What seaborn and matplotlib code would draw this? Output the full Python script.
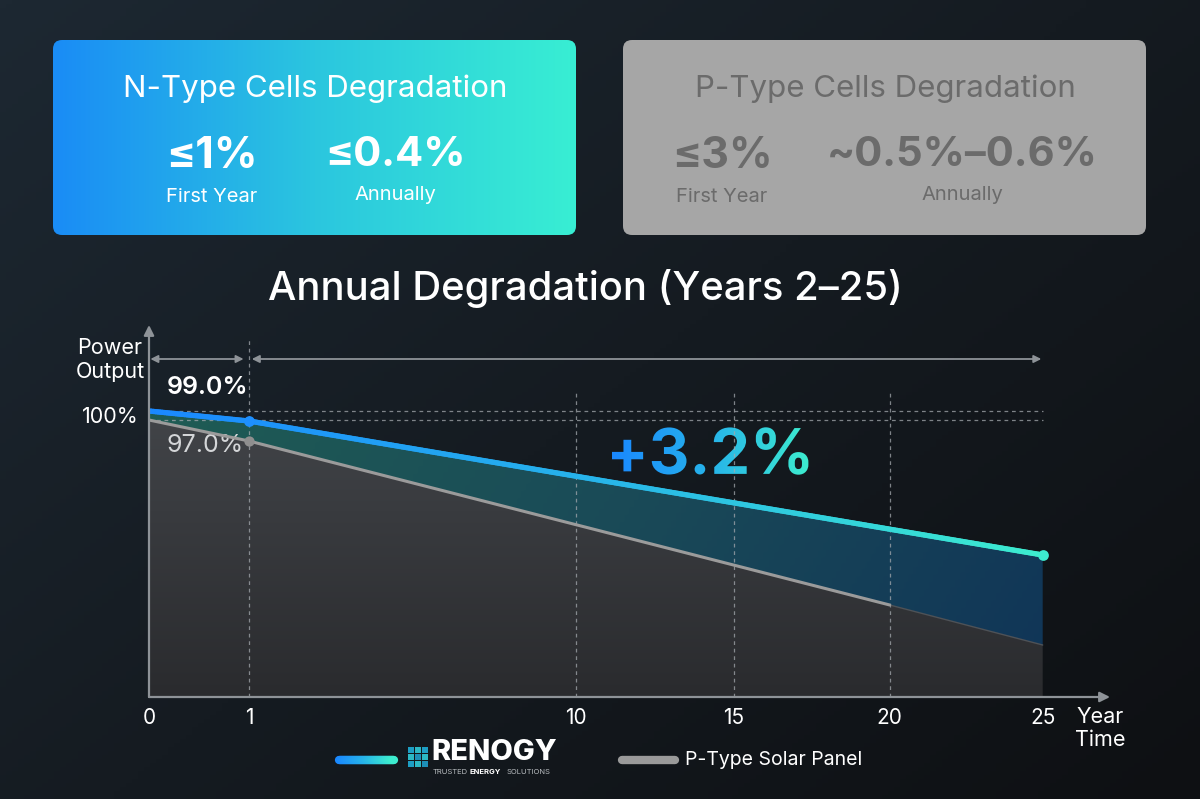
import numpy as np
import seaborn as sns
import matplotlib.pyplot as plt
from matplotlib.colors import LinearSegmentedColormap
from matplotlib.collections import LineCollection
from matplotlib.patches import FancyBboxPatch, PathPatch, Rectangle
from matplotlib.textpath import TextPath
from matplotlib.font_manager import FontProperties
from matplotlib.transforms import Affine2D, blended_transform_factory

# ---- data ----
n_years = [0, 1, 25]
n_output = [100.0, 99.0, 85.6]          # N-type (Renogy) power output, %
p_years = [0, 1, 20, 25]
p_output = [99.1, 97.0, 80.6, 76.6]     # P-type power output, %
tick_years = [0, 1, 10, 15, 20, 25]
grid_years = [10, 15, 20]
gain_label = "+3.2%"

n_box = {"title": "N-Type Cells Degradation", "first": "≤1%", "annual": "≤0.4%"}
p_box = {"title": "P-Type Cells Degradation", "first": "≤3%", "annual": "~0.5%–0.6%"}

# schematic (uneven) year axis used in the original
year_knots = [0, 1, 10, 15, 20, 25, 30]
pos_knots = [0, 1, 4.27, 5.85, 7.41, 8.94, 10.47]


def fwd(x):
    return np.interp(x, year_knots, pos_knots)


def inv(x):
    return np.interp(x, pos_knots, year_knots)


sns.set_theme(style="dark")
plt.rcParams["font.family"] = ["Inter", "DejaVu Sans"]

W, H = 1200, 799
fig = plt.figure(figsize=(12, 7.99), dpi=100)


def Y(y):
    return H - y


blue_cmap = LinearSegmentedColormap.from_list("nb", ["#1a88ff", "#27b4ea", "#3deccf"])

# ---- background layer ----
bg = fig.add_axes([0, 0, 1, 1])
bg.set_zorder(0)
gx, gy = np.meshgrid(np.linspace(0, 1, 200), np.linspace(0, 1, 200))
bg.imshow(0.55 * gx + 0.45 * gy, extent=[0, W, 0, H], origin="upper", aspect="auto",
          cmap=LinearSegmentedColormap.from_list("bg", ["#1d2832", "#151b21", "#0e1013"]), zorder=0)


def grad_box(x0, y0, w, h, cmap=None, color=None):
    patch = FancyBboxPatch((x0, Y(y0 + h)), w, h, boxstyle="round,pad=0,rounding_size=9",
                           fc=color if color else "none", ec="none", zorder=1)
    bg.add_patch(patch)
    if cmap is not None:
        im = bg.imshow(np.linspace(0, 1, 256)[None, :], cmap=cmap, aspect="auto",
                       extent=[x0, x0 + w, Y(y0 + h), Y(y0)], zorder=1)
        im.set_clip_path(patch)


grad_box(53, 40, 523, 195, cmap=LinearSegmentedColormap.from_list("bx", ["#1a8cf6", "#2bc6df", "#38eed3"]))
grad_box(623, 40, 523, 195, color="#a6a6a6")

for box, cx, col, vx in [(n_box, 315, "white", (212, 395)), (p_box, 885, "#6b6b6b", (722, 962))]:
    bg.text(cx, Y(89), box["title"], ha="center", va="center", color=col, fontsize=22.5, zorder=3)
    bg.text(vx[0], Y(156), box["first"], ha="center", va="center", color=col, fontsize=31,
            weight="bold", zorder=3)
    bg.text(vx[1], Y(155), box["annual"], ha="center", va="center", color=col, fontsize=30,
            weight="bold", zorder=3)
    bg.text(vx[0], Y(197), "First Year", ha="center", va="center", color=col, fontsize=14.5, zorder=3)
    bg.text(vx[1], Y(195), "Annually", ha="center", va="center", color=col, fontsize=14.5, zorder=3)

bg.text(585, Y(288), "Annual Degradation (Years 2–25)", ha="center", va="center",
        color="white", fontsize=28.8, weight="medium", zorder=3)

# gradient "+3.2%"
tp = TextPath((0, 0), gain_label, size=63, prop=FontProperties(family="Inter", weight="bold"))
ext = tp.get_extents()
tr = Affine2D().translate(-(ext.x0 + ext.x1) / 2, -(ext.y0 + ext.y1) / 2).translate(710, Y(451))
tpatch = PathPatch(tr.transform_path(tp), fc="none", ec="none", zorder=4)
bg.add_patch(tpatch)
tb = tpatch.get_path().get_extents()
im = bg.imshow(np.linspace(0, 1, 256)[None, :], cmap=blue_cmap, aspect="auto",
               extent=[tb.x0, tb.x1, tb.y0, tb.y1], zorder=4)
im.set_clip_path(tpatch)

# legend
leg = LineCollection([[(339 + i, Y(760)), (340 + i, Y(760))] for i in range(55)],
                     colors=blue_cmap(np.linspace(0, 1, 55)), lw=6, capstyle="round", zorder=3)
bg.add_collection(leg)
icon_cols = ["#1d9ec4", "#2cb8c4", "#1d9ec4", "#2cb8c4", "#1d8fb8", "#2cb8c4", "#1d9ec4", "#2cb8c4", "#1d8fb8"]
for i in range(3):
    for j in range(3):
        bg.add_patch(Rectangle((408 + j * 7, Y(746 + (i + 1) * 7)), 6, 6, fc=icon_cols[i * 3 + j],
                               ec="none", zorder=3))
bg.text(431, Y(753), "RENOGY", ha="left", va="center", color="white", fontsize=21,
        weight="heavy", zorder=3)
bg.text(433, Y(772), "TRUSTED", ha="left", va="center", color="#b8bcc0", fontsize=5.5, zorder=3)
bg.text(470, Y(772), "ENERGY", ha="left", va="center", color="white", fontsize=5.5,
        weight="bold", zorder=3)
bg.text(507, Y(772), "SOLUTIONS", ha="left", va="center", color="#b8bcc0", fontsize=5.5, zorder=3)
bg.plot([622, 675], [Y(760), Y(760)], color="#9a9a9a", lw=6, solid_capstyle="round", zorder=3)
bg.text(685, Y(760), "P-Type Solar Panel", ha="left", va="center", color="white",
        fontsize=14, zorder=3)

bg.set_xlim(0, W)
bg.set_ylim(0, H)
bg.axis("off")

# ---- chart ----
ymin, ymax = 71.4, 108.6
ax = fig.add_axes([149 / W, 1 - 697 / H, 961 / W, 372 / H])
ax.set_zorder(1)
ax.patch.set_alpha(0)

sns.lineplot(x=p_years[:3], y=p_output[:3], ax=ax, color="#9b9b9b", lw=2.2, legend=False, zorder=6)
ax.plot(p_years[2:], p_output[2:], color="#4e5257", lw=1, zorder=5)
ax.set_xscale("function", functions=(fwd, inv))

grey_poly = ax.fill(np.r_[p_years, p_years[-1], p_years[0]], np.r_[p_output, ymin, ymin],
                    fc="none", ec="none")[0]
gim = ax.imshow(np.linspace(0, 1, 256)[:, None], extent=(0, 1, 0, 1), transform=ax.transAxes,
                aspect="auto", origin="upper",
                cmap=LinearSegmentedColormap.from_list("g", ["#4a4d51", "#393b3f", "#2a2b2e"]), zorder=2)
gim.set_clip_path(grey_poly)

gap_poly = ax.fill(np.r_[n_years, p_years[::-1]], np.r_[n_output, p_output[::-1]],
                   fc="none", ec="none")[0]
gx2, gy2 = np.meshgrid(np.linspace(0, 1, 200), np.linspace(0, 1, 200))
bim = ax.imshow(0.8 * gx2 + 0.2 * gy2, extent=(0, 1, 0, 1), transform=ax.transAxes,
                aspect="auto", origin="upper",
                cmap=LinearSegmentedColormap.from_list("b", ["#1f5e54", "#1a4a58", "#0f3257"]), zorder=2)
bim.set_clip_path(gap_poly)

# gradient N-type line (sampled evenly in display space so it stays straight)
sx = np.linspace(fwd(n_years[0]), fwd(n_years[-1]), 400)
sy = np.interp(sx, fwd(np.array(n_years)), n_output)
pts = np.column_stack([inv(sx), sy]).reshape(-1, 1, 2)
segs = np.concatenate([pts[:-1], pts[1:]], axis=1)
lc = LineCollection(segs, cmap=blue_cmap, lw=3.8, capstyle="round", zorder=7)
lc.set_array((sx[:-1] - sx[0]) / (sx[-1] - sx[0]))
ax.add_collection(lc)

sns.scatterplot(x=[p_years[1]], y=[p_output[1]], ax=ax, color="#8f8f8f", s=55, lw=0, zorder=8, legend=False)
sns.scatterplot(x=[n_years[1]], y=[n_output[1]], ax=ax, color="#1e90ff", s=60, lw=0, zorder=8, legend=False)
sns.scatterplot(x=[n_years[-1]], y=[n_output[-1]], ax=ax, color="#3deccf", s=60, lw=0, zorder=8, legend=False)

# guides
dash = dict(color="#a3a8ad", lw=0.9, ls=(0, (3, 3)), alpha=0.75, zorder=3)
for yv in (n_output[0], p_output[0]):
    ax.plot([0, n_years[-1]], [yv, yv], **dash)
ax.vlines(n_years[1], ymin, 107.4, **dash)
ax.vlines(grid_years, ymin, 102.1, **dash)

arr = dict(arrowstyle="<|-|>", color="#8e9398", lw=1.3, shrinkA=1, shrinkB=1, mutation_scale=11)
ax.annotate("", xy=(0, 105.2), xytext=(n_years[1] - 0.04, 105.2), arrowprops=arr)
ax.annotate("", xy=(n_years[1] + 0.04, 105.2), xytext=(n_years[-1], 105.2), arrowprops=arr)

axarr = dict(arrowstyle="-|>", color="#8e9398", lw=1.6, shrinkA=0, shrinkB=0, mutation_scale=15)
ax.annotate("", xy=(0, 1), xytext=(0, 0), xycoords="axes fraction", arrowprops=axarr, zorder=9)
ax.annotate("", xy=(1, 0), xytext=(0, 0), xycoords="axes fraction", arrowprops=axarr, zorder=9)

bt = blended_transform_factory(ax.transData, ax.transAxes)
for t in tick_years:
    ax.text(t, -0.057, str(t), transform=bt, ha="center", va="center", color="white", fontsize=15)
ax.text(0.9896, -0.085, "Year\nTime", transform=ax.transAxes, ha="center", va="center",
        color="white", fontsize=15.5, linespacing=1.2)
ax.text(-0.0406, 0.906, "Power\nOutput", transform=ax.transAxes, ha="center", va="center",
        color="white", fontsize=15.5, linespacing=1.2)
ax.text(-0.0406, 0.753, "100%", transform=ax.transAxes, ha="center", va="center",
        color="white", fontsize=15.5)
ax.text(0.0614, 0.833, f"{n_output[1]:.1f}%", transform=ax.transAxes, ha="center", va="center",
        color="white", fontsize=18, weight="semibold")
ax.text(0.0585, 0.677, f"{p_output[1]:.1f}%", transform=ax.transAxes, ha="center", va="center",
        color="#d4d6d8", fontsize=18)

ax.set_xlim(0, 27.2)
ax.set_ylim(ymin, ymax)
ax.axis("off")

fig.savefig("out.png", dpi=100, facecolor="#151b21")
